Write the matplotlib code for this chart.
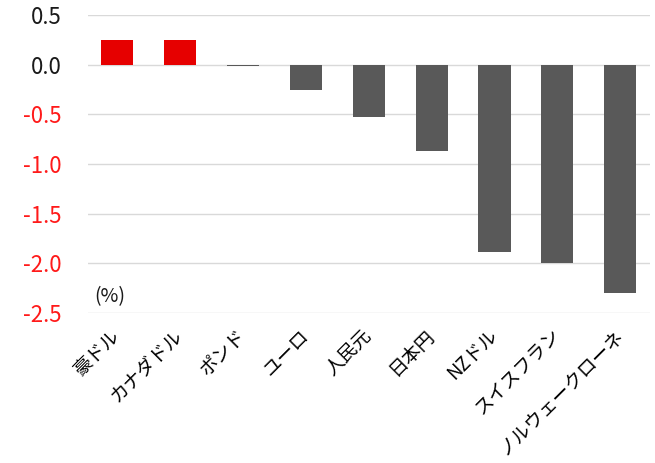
import matplotlib
matplotlib.use("Agg")
import matplotlib.pyplot as plt

plt.rcParams['font.family'] = ['Noto Sans CJK JP', 'DejaVu Sans']

categories = ["豪ドル", "カナダドル", "ポンド", "ユーロ", "人民元", "日本円", "NZドル", "スイスフラン", "ノルウェークローネ"]
values = [0.25, 0.25, -0.01, -0.26, -0.53, -0.87, -1.89, -2.0, -2.3]
yticks = [0.5, 0.0, -0.5, -1.0, -1.5, -2.0, -2.5]
ytick_labels = ["0.5", "0.0", "-0.5", "-1.0", "-1.5", "-2.0", "-2.5"]

pos_color = "#E60000"
neg_color = "#595959"

fig = plt.figure(figsize=(6.55, 4.63), dpi=100)
ax = fig.add_axes([0.134, 0.324, 0.858, 0.644])

x = list(range(len(categories)))
colors = [pos_color if v > 0 else neg_color for v in values]
ax.bar(x, values, width=0.51, color=colors, zorder=3)

ax.set_ylim(-2.5, 0.5)
ax.set_xlim(-0.47, len(categories) - 0.53)
ax.set_yticks(yticks)
ax.set_yticklabels(ytick_labels, fontsize=16)
for lbl, v in zip(ax.get_yticklabels(), yticks):
    lbl.set_color("#FF1A1A" if v < 0 else "#1A1A1A")

ax.set_xticks(x)
ax.set_xticklabels(categories, fontsize=13.5, rotation=45, ha="right", va="center", rotation_mode="anchor")

ax.grid(axis="y", color="#D9D9D9", linewidth=1, zorder=0)
ax.tick_params(axis="y", length=0, pad=19)
ax.tick_params(axis="x", length=0, pad=14)
for s in ax.spines.values():
    s.set_visible(False)

ax.text(0.012, 0.054, "(%)", transform=ax.transAxes, fontsize=14, ha="left", va="center", color="#1A1A1A")

fig.savefig("out.png", dpi=100)
